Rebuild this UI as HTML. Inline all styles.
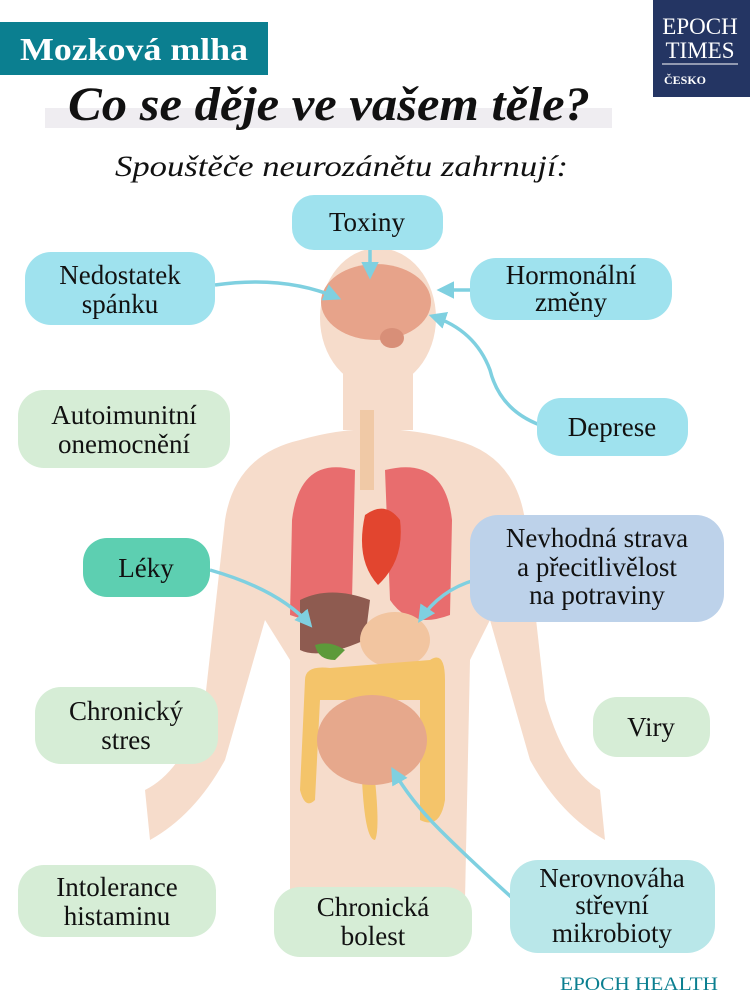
<!DOCTYPE html>
<html><head><meta charset="utf-8"><style>
body{margin:0;width:750px;height:1003px;background:#fff;overflow:hidden}
svg text{font-family:"Liberation Serif",serif}
</style></head><body>
<svg width="750" height="1003" viewBox="0 0 750 1003" xmlns="http://www.w3.org/2000/svg">
<defs><marker id="a" viewBox="0 0 10 10" refX="8" refY="5" markerWidth="5" markerHeight="5" orient="auto"><path d="M0,0L10,5L0,10z" fill="#7fd0e0"/></marker></defs>
<!-- header -->
<rect x="0" y="22" width="268" height="53" fill="#0b7f90"/>
<text x="20" y="60" font-size="32" fill="#fff" font-weight="bold" textLength="228" lengthAdjust="spacingAndGlyphs">Mozková mlha</text>
<rect x="653" y="0" width="97" height="97" fill="#243563"/>
<text x="700" y="34" font-size="23" fill="#fff" text-anchor="middle">EPOCH</text>
<text x="700" y="58" font-size="23" fill="#fff" text-anchor="middle">TIMES</text>
<line x1="662" y1="64" x2="738" y2="64" stroke="#fff" stroke-width="1"/>
<text x="664" y="84" font-size="12" fill="#fff" font-family="Liberation Sans" font-weight="bold">ČESKO</text>
<rect x="45" y="108" width="567" height="20" fill="#efedf1"/>
<text x="68" y="120" font-size="48" font-style="italic" font-weight="bold" fill="#111" textLength="522" lengthAdjust="spacingAndGlyphs">Co se děje ve vašem těle?</text>
<text x="115" y="176" font-size="30" font-style="italic" fill="#111" textLength="453" lengthAdjust="spacingAndGlyphs">Spouštěče neurozánětu zahrnují:</text>
<!-- body -->
<g fill="#f6dccb">
<ellipse cx="378" cy="318" rx="58" ry="70"/>
<rect x="343" y="360" width="70" height="70"/>
<path d="M300,440 Q375,418 455,440 Q515,455 525,520 L545,700 Q565,770 600,790 L605,840 Q560,815 530,760 L490,620 L470,660 L465,900 L290,900 L290,660 L265,620 L225,760 Q195,815 150,840 L145,790 Q185,770 205,700 L225,520 Q235,455 300,440z"/>
</g>
<!-- organs -->
<rect x="360" y="410" width="14" height="80" fill="#f0c9a6"/>
<path d="M355,470 Q300,455 292,520 L290,615 Q330,630 352,600z" fill="#e86d6e"/>
<path d="M385,470 Q445,455 452,520 L450,615 Q410,630 390,600z" fill="#e86d6e"/>
<path d="M365,515 Q385,500 400,520 Q405,560 378,585 Q355,560 365,515z" fill="#e2452f"/>
<path d="M300,600 Q330,585 370,600 L365,640 Q320,660 300,650z" fill="#8e5b50"/>
<ellipse cx="395" cy="640" rx="35" ry="28" fill="#f2c5a0"/>
<path d="M315,645 Q330,640 345,650 L335,660 Q318,660 315,645z" fill="#5c9a3a"/>
<path d="M305,680 Q305,665 330,668 L430,660 Q445,650 445,680 L445,800 Q440,830 420,820 L420,700 L320,700 L315,800 Q305,810 300,790z" fill="#f4c46a"/>
<path d="M375,780 Q380,830 375,840 Q365,840 362,780z" fill="#f4c46a"/>
<ellipse cx="372" cy="740" rx="55" ry="45" fill="#e6a88c"/>
<!-- brain -->
<ellipse cx="376" cy="302" rx="55" ry="38" fill="#e7a38a"/>
<ellipse cx="392" cy="338" rx="12" ry="10" fill="#d88f78"/>
<!-- arrows -->
<g stroke="#7fd0e0" stroke-width="3.5" fill="none" marker-end="url(#a)">
<path d="M370,250 L370,276"/>
<path d="M215,285 Q285,275 338,298"/>
<path d="M470,290 L440,290"/>
<path d="M540,425 Q500,410 490,370 Q475,330 432,316"/>
<path d="M210,570 Q280,590 310,625"/>
<path d="M475,580 Q440,590 420,620"/>
<path d="M520,905 Q470,860 440,830 Q410,800 393,770"/>
</g>
<!-- boxes -->
<g font-size="27" text-anchor="middle" fill="#111">
<rect x="292" y="195" width="151" height="55" rx="22" fill="#9fe2ee"/><text x="367" y="231">Toxiny</text>
<rect x="25" y="252" width="190" height="73" rx="26" fill="#9fe2ee"/><text x="120" y="284">Nedostatek</text><text x="120" y="313">spánku</text>
<rect x="470" y="258" width="202" height="62" rx="26" fill="#9fe2ee"/><text x="571" y="284">Hormonální</text><text x="571" y="311">změny</text>
<rect x="18" y="390" width="212" height="78" rx="26" fill="#d6edd6"/><text x="124" y="424">Autoimunitní</text><text x="124" y="453">onemocnění</text>
<rect x="537" y="398" width="151" height="58" rx="24" fill="#9fe2ee"/><text x="612" y="436">Deprese</text>
<rect x="83" y="538" width="127" height="59" rx="24" fill="#5dcfb1"/><text x="146" y="577">Léky</text>
<rect x="470" y="515" width="254" height="107" rx="28" fill="#bdd2ea"/><text x="597" y="547">Nevhodná strava</text><text x="597" y="576">a přecitlivělost</text><text x="597" y="604">na potraviny</text>
<rect x="35" y="687" width="183" height="77" rx="26" fill="#d6edd6"/><text x="126" y="720">Chronický</text><text x="126" y="749">stres</text>
<rect x="593" y="697" width="117" height="60" rx="24" fill="#d6edd6"/><text x="651" y="736">Viry</text>
<rect x="18" y="865" width="198" height="72" rx="26" fill="#d6edd6"/><text x="117" y="896">Intolerance</text><text x="117" y="925">histaminu</text>
<rect x="274" y="887" width="198" height="70" rx="26" fill="#d6edd6"/><text x="373" y="916">Chronická</text><text x="373" y="945">bolest</text>
<rect x="510" y="860" width="205" height="93" rx="28" fill="#b9e7e9"/><text x="612" y="887">Nerovnováha</text><text x="612" y="914">střevní</text><text x="612" y="942">mikrobioty</text>
</g>
<text x="560" y="990" font-size="19" fill="#0b7f90" textLength="158" lengthAdjust="spacingAndGlyphs">EPOCH HEALTH</text>
</svg>
</body></html>
